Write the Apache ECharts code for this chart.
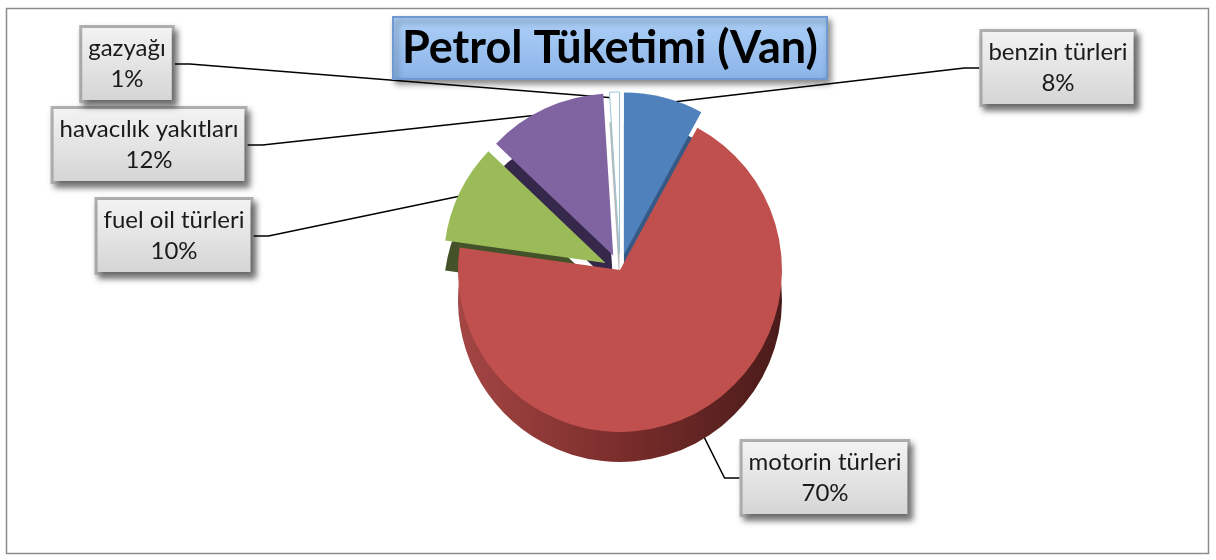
<!DOCTYPE html>
<html>
<head>
<meta charset="utf-8">
<title>Petrol Tüketimi (Van)</title>
<script src="https://cdn.jsdelivr.net/npm/echarts@6/dist/echarts.min.js"></script>
<style>
  html, body { margin: 0; padding: 0; background: #fff; }
  #main { width: 1216px; height: 560px; }
</style>
</head>
<body>
<div id="main"></div>
<script>
// data (percent of total)
const fuelNames = ['benzin türleri', 'motorin türleri', 'fuel oil türleri', 'havacılık yakıtları', 'gazyağı'];
const fuelShares = [8, 70, 10, 12, 1];

// looks
const topColors = ['#4f81bd', '#c0504d', '#9bbb59', '#8064a2', '#ffffff'];
const sideColors = [
  '#365a85',
  new echarts.graphic.LinearGradient(0, 0, 1, 0, [
    { offset: 0, color: '#a44644' },
    { offset: 0.5, color: '#7a2d2b' },
    { offset: 1, color: '#4a1b1a' }
  ]),
  '#44522a', '#35284a', '#b8b8b8'
];
const pulledOut = [true, false, true, true, true];
// where each label box sits (centre)
const labelSpots = [[1058, 68], [825, 478], [174, 236], [149, 145], [127, 64]];

const pieCenter = [620, 270];
const pieRadius = 162;
const pieDepth = 30;
const pullDistance = 16;

let chart = echarts.init(document.getElementById('main'));

function buildItems(colors, withBorder) {
  return fuelNames.map(function (name, i) {
    return {
      name: name,
      value: fuelShares[i],
      selected: pulledOut[i],
      itemStyle: {
        color: colors[i],
        borderColor: withBorder && i === 4 ? '#9cc3d5' : 'rgba(0,0,0,0)',
        borderWidth: withBorder && i === 4 ? 1 : 0
      }
    };
  });
}

let option = {
  backgroundColor: '#fff',
  title: {
    text: 'Petrol Tüketimi (Van)',
    left: 393,
    top: 17,
    padding: [5, 9, 5, 9],
    backgroundColor: new echarts.graphic.LinearGradient(0, 0, 0, 1, [
      { offset: 0, color: '#add0f8' },
      { offset: 1, color: '#8bb4e8' }
    ]),
    borderColor: '#6f99d0',
    borderWidth: 2,
    shadowBlur: 6,
    shadowColor: 'rgba(0,0,0,0.45)',
    shadowOffsetX: 3,
    shadowOffsetY: 4,
    textStyle: {
      fontFamily: 'Lato',
      fontSize: 45,
      lineHeight: 52,
      fontWeight: 'bold',
      color: '#000'
    }
  },
  graphic: [{
    type: 'rect',
    silent: true,
    shape: { x: 6.5, y: 8.5, width: 1202, height: 545 },
    style: { fill: 'none', stroke: '#8c8c8c', lineWidth: 1.5 }
  }],
  series: [
    {
      // side wall, shifted down
      type: 'pie',
      silent: true,
      center: [pieCenter[0], pieCenter[1] + pieDepth],
      radius: pieRadius,
      startAngle: 90,
      selectedMode: 'multiple',
      selectedOffset: pullDistance,
      label: { show: false },
      labelLine: { show: false },
      emphasis: { disabled: true },
      animation: false,
      data: buildItems(sideColors, false)
    },
    {
      // top face
      type: 'pie',
      silent: true,
      center: pieCenter,
      radius: pieRadius,
      startAngle: 90,
      selectedMode: 'multiple',
      selectedOffset: pullDistance,
      animation: false,
      emphasis: { disabled: true },
      label: { show: false },
      labelLine: { show: false },
      data: buildItems(topColors, true)
    },
    {
      // invisible copy that only carries the labels
      type: 'pie',
      silent: true,
      center: pieCenter,
      radius: pieRadius + 10,
      startAngle: 90,
      animation: false,
      emphasis: { disabled: true },
      itemStyle: { color: 'rgba(0,0,0,0)' },
      label: {
        show: true,
        formatter: '{b}\n{c}%',
        fontFamily: 'Lato',
        fontSize: 24,
        lineHeight: 31,
        color: '#1a1a1a',
        align: 'center',
        padding: [6, 6, 4, 6],
        backgroundColor: new echarts.graphic.LinearGradient(0, 0, 0, 1, [
          { offset: 0, color: '#f4f4f4' },
          { offset: 1, color: '#d4d4d4' }
        ]),
        borderColor: '#b0b0b0',
        borderWidth: 3,
        shadowBlur: 6,
        shadowColor: 'rgba(0,0,0,0.45)',
        shadowOffsetX: 3,
        shadowOffsetY: 4
      },
      labelLine: {
        show: true,
        length: 15,
        length2: 15,
        lineStyle: { color: '#000', width: 1.5 }
      },
      labelLayout: function (p) {
        let spot = labelSpots[p.dataIndex];
        return { x: spot[0], y: spot[1], align: 'center', verticalAlign: 'middle' };
      },
      data: fuelNames.map(function (name, i) {
        return { name: name, value: fuelShares[i] };
      })
    }
  ]
};

chart.setOption(option);
</script>
</body>
</html>
